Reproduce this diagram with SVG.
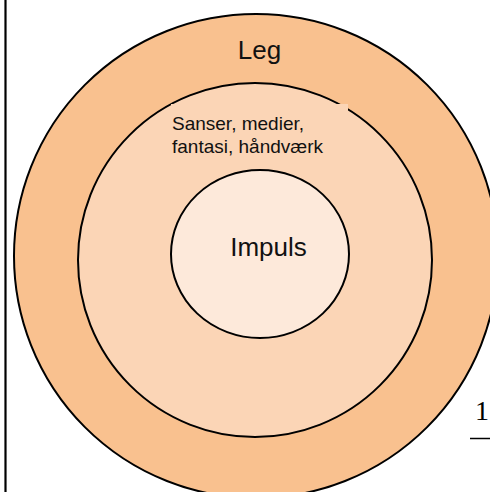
<svg xmlns="http://www.w3.org/2000/svg" width="490" height="492" viewBox="0 0 490 492">
<style>
.ring{stroke:#000;stroke-width:2}
.t{font-family:"Liberation Sans",Arial,sans-serif;fill:#111}
</style>
<rect width="490" height="492" fill="#fff"/>
<line x1="5.5" y1="0" x2="5.5" y2="492" stroke="#000" stroke-width="2.2"/>
<g id="leg">
<circle class="ring" cx="256" cy="256" r="242" fill="#F9C18F"/>
<text class="t" x="259.5" y="59" font-size="26" text-anchor="middle">Leg</text>
</g>
<g id="sanser">
<ellipse class="ring" cx="255" cy="260" rx="177" ry="177" fill="#FBD5B6"/>
<rect x="171" y="104" width="177" height="62" fill="#FBD5B6"/>
<text class="t" x="172" y="130" font-size="19">Sanser, medier,</text>
<text class="t" x="172" y="153" font-size="19">fantasi, håndværk</text>
</g>
<g id="impuls">
<ellipse class="ring" cx="260" cy="254" rx="89" ry="84" fill="#FDE9DA"/>
<text class="t" x="268.5" y="256" font-size="26" text-anchor="middle">Impuls</text>
</g>
<text x="482" y="420" font-family="'Liberation Serif','Times New Roman',serif" font-size="28" text-anchor="middle" fill="#000">1</text>
<line x1="470" y1="438.5" x2="490" y2="438.5" stroke="#000" stroke-width="1.5"/>
</svg>
